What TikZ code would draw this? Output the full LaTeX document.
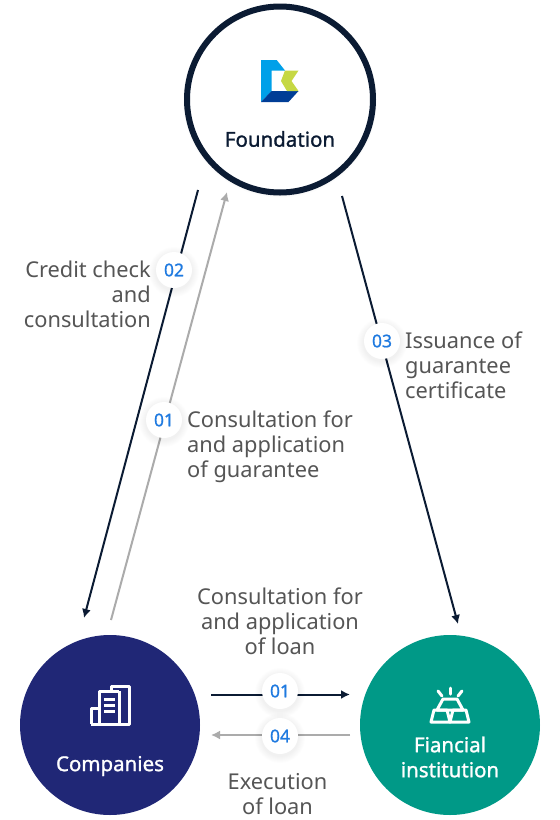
\documentclass[tikz,border=0pt]{standalone}
\usepackage{fontspec}
\setmainfont{Noto Sans}
\newfontfamily\hubfont[FakeBold=1.2]{Noto Sans}
\newfontfamily\numfont[FakeBold=1]{Noto Sans}
\usetikzlibrary{arrows.meta}
\definecolor{ink}{HTML}{0B1B33}
\definecolor{txt}{HTML}{555555}
\definecolor{greyline}{HTML}{ABABAB}
\definecolor{navy}{HTML}{202776}
\definecolor{teal}{HTML}{009987}
\definecolor{num}{HTML}{1F7AE0}
\definecolor{logoA}{RGB}{0,160,233}
\definecolor{logoB}{RGB}{0,61,150}
\definecolor{logoC}{RGB}{198,216,68}
\tikzset{
  hub/.style={circle,minimum size=180pt,inner sep=0pt},
  lab/.style={font=\fontsize{21.8}{25}\selectfont,text=txt,inner sep=0pt,align=#1},
  hublab/.style={font=\hubfont\fontsize{20.5}{25}\selectfont,inner sep=0pt,align=center},
  blk/.style={draw=ink,line width=2pt,-{Latex[length=9pt,width=9pt]}},
  gry/.style={draw=greyline,line width=2pt,-{Latex[length=9pt,width=9pt]}},
  badge/.style={circle,fill=white,minimum size=36pt,inner sep=0pt,text=num,font=\numfont\fontsize{17.5}{17.5}\selectfont}
}
\newcommand{\softshadow}[1]{%
  \foreach \r in {25,24,23,22,21,20,19}{\fill[black,opacity=0.006] (#1)+(0,2) circle (\r pt);}}
\begin{document}
\begin{tikzpicture}[x=1pt,y=-1pt]
\useasboundingbox (0,0) rectangle (560,820);
\fill[white] (0,0) rectangle (560,820);
% hubs
\foreach \r in {97,96,95}{\fill[black,opacity=0.01] (280,100.5) circle (\r pt);}
\node[hub,draw=ink,line width=6pt,minimum size=186pt,fill=white] (found) at (280,99.5) {};
\node[hub,fill=navy] (comp) at (110,725) {};
\node[hub,fill=teal] (fin) at (450,725) {};
% connector ends
\coordinate (a1) at (198,190); \coordinate (a2) at (84,618);
\coordinate (b1) at (111,620); \coordinate (b2) at (227,192);
\coordinate (c1) at (342,196); \coordinate (c2) at (458,624);
\coordinate (d1) at (211,694.5); \coordinate (d2) at (350,694.5);
\coordinate (e1) at (350,735); \coordinate (e2) at (211,735);
\draw[blk] (a1) -- (a2);
\draw[gry] (b1) -- (b2);
\draw[blk] (c1) -- (c2);
\draw[blk] (d1) -- (d2);
\draw[gry] (e1) -- (e2);
% badges
\softshadow{174,270}\node[badge] (n02) at (174,270) {02};
\softshadow{382,341}\node[badge] (n03) at (382,341) {03};
\softshadow{164,420}\node[badge] (n01a) at (164,420) {01};
\softshadow{280,691}\node[badge] (n01b) at (280,691) {01};
\softshadow{280,736}\node[badge] (n04) at (280,736) {04};
% labels
\node[lab=right,anchor=north east] (t1) at (151,261) {Credit check\\and\\consultation};
\node[lab=left,anchor=north west] (t2) at (405,332) {Issuance of\\guarantee\\certificate};
\node[lab=left,anchor=north west] (t3) at (187,411) {Consultation for\\and application\\of guarantee};
\node[lab=center,anchor=north] (t4) at (280,588) {Consultation for\\and application\\of loan};
\node[lab=center,anchor=north] (t5) at (277.5,773) {Execution\\of loan};
\node[hublab,text=ink] (l1) at (280,139) {Foundation};
\node[hublab,text=white] (l2) at (110,766) {Companies};
\node[hublab,text=white] (l3) at (450,757) {Fiancial\\institution};
% logo
\fill[logoA] (261,60) -- (276.7,60) -- (285,70.5) -- (271.5,70.5) -- (271.5,91) -- (261,102) -- cycle;
\fill[logoB] (261,102) -- (271.5,91) -- (298.5,91) -- (288.5,102) -- cycle;
\fill[logoC] (285,70.5) -- (298.5,70.5) -- (291.5,81) -- (298.5,91) -- (287,91) -- (281,81) -- cycle;
% companies icon
\begin{scope}[draw=white,line width=3pt,line join=round]
\draw (91,724) -- (91,708) -- (98,708);
\draw (91,724) -- (129,724) -- (129,686) -- (111,686) -- (111,691) -- (99,691) -- (99,724);
\draw (119,691) -- (111,691);
\draw (119,691) -- (119,724);
\draw (104,699) -- (115,699);
\draw (104,705) -- (115,705);
\draw (104,711) -- (115,711);
\end{scope}
% gold icon
\begin{scope}[draw=white,line width=3pt,line join=round,line cap=round]
\draw (450,688) -- (450,694);
\draw (438,691) -- (442,696);
\draw (462,691) -- (458,696);
\draw (443,699) -- (457,699) -- (463,710) -- (437,710) -- cycle;
\draw (434,710) -- (447,710) -- (450,722) -- (431,722) -- cycle;
\draw (453,710) -- (466,710) -- (469,722) -- (450,722) -- cycle;
\end{scope}
\end{tikzpicture}
\end{document}
